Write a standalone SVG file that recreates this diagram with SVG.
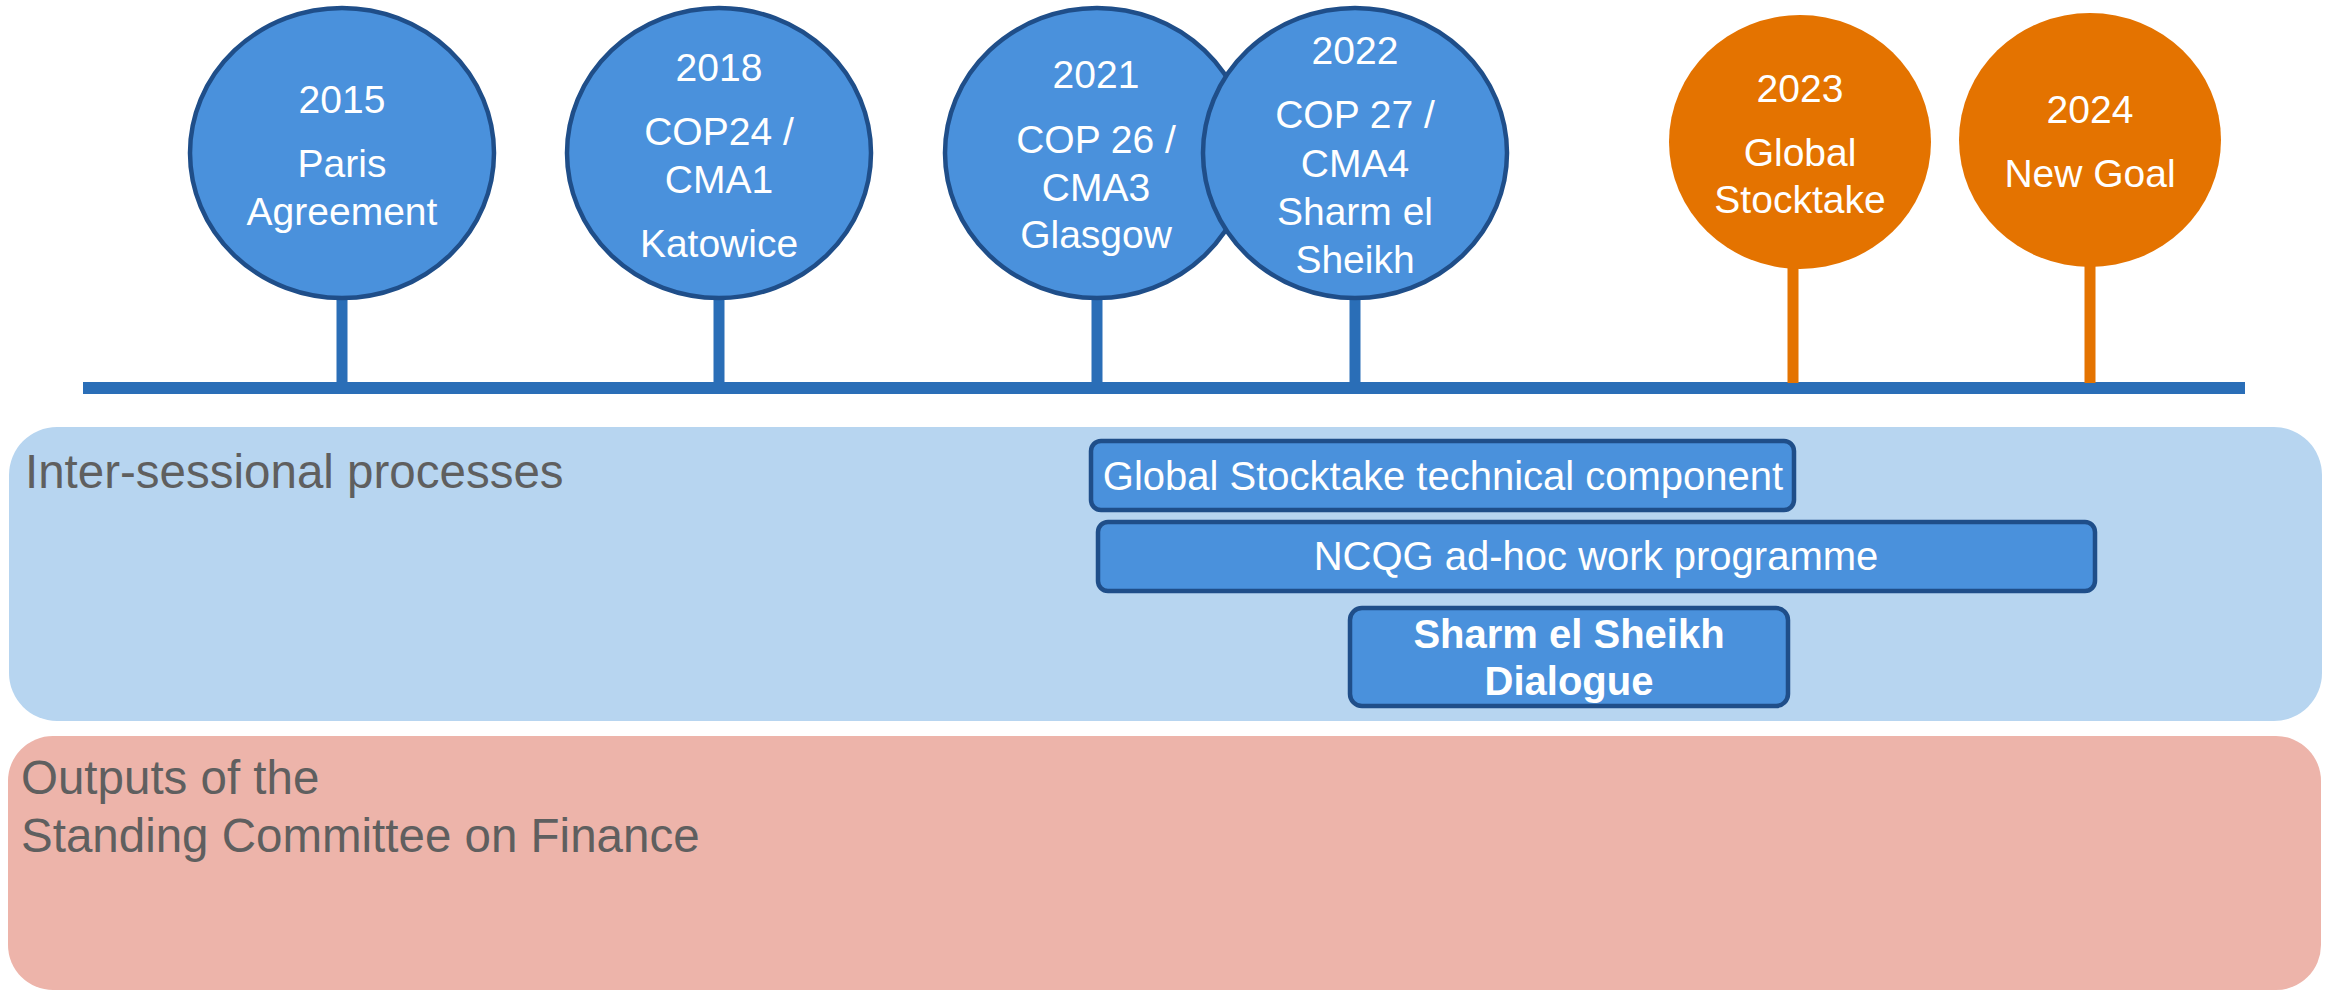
<svg xmlns="http://www.w3.org/2000/svg" width="2331" height="991" viewBox="0 0 2331 991">
  <style>
    .milestone { fill: #4A91DC; stroke: #1F4E89; stroke-width: 4.5; }
    .future { fill: #E47300; }
    .label { font-family: "Liberation Sans", Arial, sans-serif; font-size: 39px; fill: #FFFFFF; text-anchor: middle; }
    .stem-blue { stroke: #2A6EB7; stroke-width: 11; }
    .stem-orange { stroke: #E47300; stroke-width: 11; }
    .axis { stroke: #2A6EB7; stroke-width: 12; }
    .panel-title { font-family: "Liberation Sans", Arial, sans-serif; font-size: 47.5px; fill: #5F5F5F; }
    .bar { fill: #4A91DC; stroke: #1F4E89; stroke-width: 4.5; }
    .bar-text { font-family: "Liberation Sans", Arial, sans-serif; font-size: 40px; fill: #FFFFFF; text-anchor: middle; }
  </style>

  <!-- background bands -->
  <g id="band-intersessional">
    <rect x="9" y="427" width="2313" height="294" rx="48" ry="48" fill="#B7D5F0"/>
    <text class="panel-title" x="25" y="488">Inter-sessional processes</text>
  </g>
  <g id="band-scf">
    <rect x="8" y="736" width="2313" height="254" rx="45" ry="45" fill="#EDB4AA"/>
    <text class="panel-title" x="21" y="794">Outputs of the</text>
    <text class="panel-title" x="21" y="852">Standing Committee on Finance</text>
  </g>

  <!-- timeline axis and stems -->
  <g id="connectors">
    <line class="axis" x1="83" y1="388" x2="2245" y2="388"/>
    <line class="stem-blue" x1="342" y1="296" x2="342" y2="388"/>
    <line class="stem-blue" x1="719" y1="296" x2="719" y2="388"/>
    <line class="stem-blue" x1="1097" y1="296" x2="1097" y2="388"/>
    <line class="stem-blue" x1="1355" y1="296" x2="1355" y2="388"/>
    <line class="stem-orange" x1="1793" y1="266" x2="1793" y2="383"/>
    <line class="stem-orange" x1="2090" y1="264" x2="2090" y2="383"/>
  </g>

  <!-- milestones -->
  <g id="node-2015">
    <ellipse class="milestone" cx="342" cy="153" rx="152" ry="145"/>
    <text class="label" x="342" y="113">2015</text>
    <text class="label" x="342" y="177">Paris</text>
    <text class="label" x="342" y="225">Agreement</text>
  </g>
  <g id="node-2018">
    <ellipse class="milestone" cx="719" cy="153" rx="152" ry="145"/>
    <text class="label" x="719" y="81">2018</text>
    <text class="label" x="719" y="145">COP24 /</text>
    <text class="label" x="719" y="193">CMA1</text>
    <text class="label" x="719" y="257">Katowice</text>
  </g>
  <g id="node-2021">
    <ellipse class="milestone" cx="1097" cy="153" rx="152" ry="145"/>
    <text class="label" x="1096" y="88">2021</text>
    <text class="label" x="1096" y="153">COP 26 /</text>
    <text class="label" x="1096" y="201">CMA3</text>
    <text class="label" x="1096" y="248">Glasgow</text>
  </g>
  <g id="node-2022">
    <ellipse class="milestone" cx="1355" cy="153" rx="152" ry="145"/>
    <text class="label" x="1355" y="64">2022</text>
    <text class="label" x="1355" y="128">COP 27 /</text>
    <text class="label" x="1355" y="177">CMA4</text>
    <text class="label" x="1355" y="225">Sharm el</text>
    <text class="label" x="1355" y="273">Sheikh</text>
  </g>
  <g id="node-2023">
    <ellipse class="future" cx="1800" cy="142" rx="131" ry="127"/>
    <text class="label" x="1800" y="102">2023</text>
    <text class="label" x="1800" y="166">Global</text>
    <text class="label" x="1800" y="213">Stocktake</text>
  </g>
  <g id="node-2024">
    <ellipse class="future" cx="2090" cy="140" rx="131" ry="127"/>
    <text class="label" x="2090" y="123">2024</text>
    <text class="label" x="2090" y="187">New Goal</text>
  </g>

  <!-- process bars -->
  <g id="bar-gst">
    <rect class="bar" x="1091" y="441" width="703" height="69" rx="10" ry="10"/>
    <text class="bar-text" x="1443" y="490">Global Stocktake technical component</text>
  </g>
  <g id="bar-ncqg">
    <rect class="bar" x="1098" y="522" width="997" height="69" rx="10" ry="10"/>
    <text class="bar-text" x="1596" y="570">NCQG ad-hoc work programme</text>
  </g>
  <g id="bar-ses">
    <rect class="bar" x="1350" y="608" width="438" height="98" rx="12" ry="12"/>
    <text class="bar-text" x="1569" y="648" font-weight="bold">Sharm el Sheikh</text>
    <text class="bar-text" x="1569" y="695" font-weight="bold">Dialogue</text>
  </g>
</svg>
